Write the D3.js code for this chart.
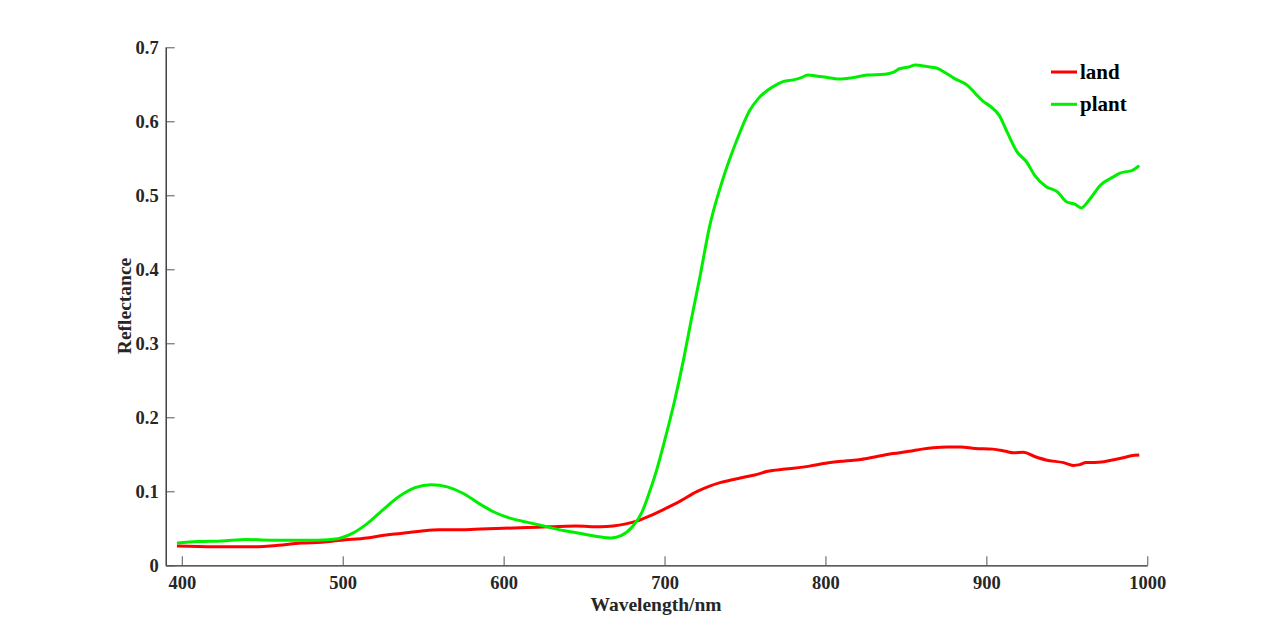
<!DOCTYPE html>
<html><head><meta charset="utf-8">
<script src="https://cdn.jsdelivr.net/npm/d3@7"></script>
<style>body{margin:0;background:#fff}svg{display:block}</style>
</head><body>
<svg id="c" width="1268" height="636"></svg>
<script>
const landWave = [397,420,443,460,474,487,499,515,527,536,548,560,575,586,600,615,627,645,660,668,676,683,690,699,710,720,728,735,747,756,764,775,790,800,812,822,832,842,852,860,867,876,884,893,904,912,917,923,930,937,948,954,958,962,967,973,980,985,990,995];
const landVal = [0.026,0.025,0.025,0.027,0.030,0.031,0.034,0.037,0.041,0.043,0.046,0.048,0.048,0.049,0.050,0.051,0.052,0.053,0.052,0.053,0.056,0.060,0.066,0.075,0.087,0.0995,0.107,0.112,0.118,0.122,0.127,0.130,0.134,0.138,0.141,0.143,0.147,0.151,0.154,0.157,0.159,0.160,0.160,0.158,0.157,0.154,0.152,0.1527,0.147,0.1423,0.1387,0.135,0.136,0.139,0.139,0.140,0.143,0.1454,0.148,0.149];
const plantWave = [397,410,425,440,455,470,485,497,505,515,525,535,545,555,565,575,585,595,605,615,627,637,648,658,667,673,680,686,690,695,700,706,712,716,722,728,736,745,753,758,764,770,774,780,785,789,795,802,809,817,826,837,842,846,851,856,863,869,875,880,888,893,898,902,908,913,919,925,930,937,944,950,955,959,964,971,979,983,987,990,995];
const plantVal = [0.030,0.032,0.033,0.035,0.034,0.034,0.034,0.036,0.042,0.056,0.075,0.093,0.105,0.109,0.106,0.097,0.083,0.071,0.063,0.058,0.052,0.047,0.043,0.039,0.037,0.040,0.052,0.072,0.095,0.128,0.168,0.220,0.280,0.325,0.390,0.458,0.520,0.575,0.615,0.630,0.642,0.650,0.654,0.656,0.659,0.6625,0.661,0.659,0.657,0.659,0.6625,0.6635,0.666,0.671,0.673,0.676,0.674,0.672,0.665,0.658,0.649,0.638,0.627,0.621,0.608,0.585,0.559,0.545,0.527,0.512,0.505,0.491,0.488,0.483,0.494,0.514,0.525,0.530,0.532,0.533,0.540];
const xTicks = [400,500,600,700,800,900,1000];
const yTicks = [0,0.1,0.2,0.3,0.4,0.5,0.6,0.7];
const seriesNames = ["land","plant"];
const seriesColors = ["#ff0000","#00ee00"];

const svg = d3.select("#c");
const FONT = "'Liberation Serif','Times New Roman',serif";
const x = d3.scaleLinear().domain([390,1000]).range([165.7,1147.3]);
const y = d3.scaleLinear().domain([0,0.7]).range([565.3,47.3]);

const xAxis = svg.append("g").attr("transform","translate(0,565.3)")
  .call(d3.axisBottom(x).tickValues(xTicks).tickSize(-9).tickPadding(11).tickSizeOuter(0).tickFormat(d3.format("d")));
const yAxis = svg.append("g").attr("transform","translate(165.7,0)")
  .call(d3.axisLeft(y).tickValues(yTicks).tickSize(-9).tickPadding(7).tickSizeOuter(0).tickFormat(d=>d===0?"0":d3.format(".1f")(d)));
[xAxis,yAxis].forEach(a=>{
  a.select(".domain").attr("stroke","#262626").attr("stroke-width",1.3);
  a.selectAll(".tick line").attr("stroke","#555").attr("stroke-width",1);
  a.selectAll(".tick text").attr("fill","#262626").style("font-family",FONT).style("font-weight","bold").style("font-size","18.5px");
});

const line = d3.line().x(d=>x(d[0])).y(d=>y(d[1])).curve(d3.curveMonotoneX);
const data = [d3.zip(landWave,landVal), d3.zip(plantWave,plantVal)];
data.forEach((s,i)=>{
  svg.append("path").datum(s).attr("d",line).attr("fill","none")
    .attr("stroke",seriesColors[i]).attr("stroke-width",3).attr("stroke-linejoin","round");
});

svg.append("text").attr("x",656).attr("y",611).attr("text-anchor","middle")
  .style("font-family",FONT).style("font-weight","bold").style("font-size","19.5px").attr("fill","#262626").text("Wavelength/nm");
svg.append("text").attr("transform","translate(131,306) rotate(-90)").attr("text-anchor","middle")
  .style("font-family",FONT).style("font-weight","bold").style("font-size","19.5px").attr("fill","#262626").text("Reflectance");

const leg = svg.append("g");
seriesNames.forEach((n,i)=>{
  const yy = 72 + i*32.3;
  leg.append("line").attr("x1",1051).attr("x2",1077).attr("y1",yy).attr("y2",yy)
    .attr("stroke",seriesColors[i]).attr("stroke-width",3);
  leg.append("text").attr("x",1080).attr("y",yy+7)
    .style("font-family",FONT).style("font-weight","bold").style("font-size","21px").attr("fill","#000").text(n);
});
</script>
</body></html>
